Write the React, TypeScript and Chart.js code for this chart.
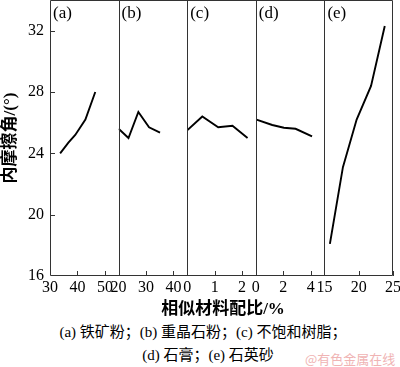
import React, { useEffect, useRef } from "react";
import { Chart, registerables } from "chart.js";

Chart.register(...registerables);

// Panel (a) 铁矿粉
const aX = [33.7, 36.7, 39.2, 42.9, 46.5];
const aY = [24.0, 24.7, 25.2, 26.2, 28.0];
// Panel (b) 重晶石粉
const bX = [20, 23.6, 27.2, 31.1, 35.1];
const bY = [25.6, 25.0, 26.7, 25.7, 25.35];
// Panel (c) 不饱和树脂
const cX = [0, 0.55, 1.13, 1.65, 2.2];
const cY = [25.5, 26.4, 25.7, 25.8, 25.0];
// Panel (d) 石膏
const dX = [0.05, 1.2, 2.05, 2.9, 4.1];
const dY = [26.2, 25.85, 25.67, 25.6, 25.1];
// Panel (e) 石英砂
const eX = [15.8, 17.7, 19.7, 21.8, 23.8];
const eY = [18.1, 23.1, 26.2, 28.4, 32.3];

const panelLabels = ["(a)", "(b)", "(c)", "(d)", "(e)"];
const panelMin = [30, 20, 0, 0, 15];
const panelMax = [55, 45, 2.5, 5, 25];
const panelStep = [10, 10, 1, 2, 5];
const yMin = 16;
const yMax = 34;
const yStep = 4;

const xTitle = "相似材料配比/%";
const yTitle = "内摩擦角/(°)";
const caption1 = "(a) 铁矿粉；(b) 重晶石粉；(c) 不饱和树脂；";
const caption2 = "(d) 石膏；(e) 石英砂";
const watermark = "@有色金属在线";

const seriesX = [aX, bX, cX, dX, eX];
const seriesY = [aY, bY, cY, dY, eY];
const axisIds = ["xa", "xb", "xc", "xd", "xe"];

const SERIF = '"Liberation Serif", "Times New Roman", "Noto Sans CJK SC", serif';
const FRAME = "#333";

const framePlugin = {
  id: "frame",
  afterDraw(chart: any) {
    const { ctx, chartArea } = chart;
    const { left, right, top, bottom } = chartArea;
    ctx.save();
    ctx.strokeStyle = FRAME;
    ctx.lineWidth = 1;
    ctx.beginPath();
    ctx.rect(left + 0.5, top + 0.5, right - left - 1, bottom - top - 1);
    ctx.stroke();
    // dividers and inward x ticks
    axisIds.forEach((id, i) => {
      const sc = chart.scales[id];
      if (i > 0) {
        const x = Math.round(sc.left) + 0.5;
        ctx.beginPath();
        ctx.moveTo(x, top);
        ctx.lineTo(x, bottom);
        ctx.stroke();
      }
      sc.ticks.forEach((t: any) => {
        if (t.value === panelMin[i]) return;
        const x = Math.round(sc.getPixelForValue(t.value)) + 0.5;
        ctx.beginPath();
        ctx.moveTo(x, bottom);
        ctx.lineTo(x, bottom - 5);
        ctx.stroke();
      });
      ctx.fillStyle = "#000";
      ctx.font = "17px " + SERIF;
      ctx.textAlign = "left";
      ctx.textBaseline = "top";
      ctx.fillText(panelLabels[i], sc.left + 3, top + 5);
    });
    // inward y ticks
    const ys = chart.scales.y;
    ys.ticks.forEach((t: any) => {
      if (t.value === yMin) return;
      const y = Math.round(ys.getPixelForValue(t.value)) + 0.5;
      ctx.beginPath();
      ctx.moveTo(left, y);
      ctx.lineTo(left + 5, y);
      ctx.stroke();
    });
    // shared x-axis title, centred under the middle panel
    const xc = chart.scales.xc;
    ctx.fillStyle = "#000";
    ctx.font = "bold 17px " + SERIF;
    ctx.textAlign = "center";
    ctx.textBaseline = "middle";
    ctx.fillText(xTitle, (xc.left + xc.right) / 2 + 1.5, xc.bottom - 12);
    ctx.restore();
  },
};

function App() {
  const ref = useRef<HTMLCanvasElement>(null);

  useEffect(() => {
    if (!ref.current) return;
    const datasets = axisIds.map((id, i) => ({
      data: seriesX[i].map((x, k) => ({ x, y: seriesY[i][k] })),
      xAxisID: id,
      yAxisID: "y",
      borderColor: "#000",
      borderWidth: 1.9,
      pointRadius: 0,
      tension: 0,
      fill: false,
    }));

    const scales: any = {
      y: {
        type: "linear",
        position: "left",
        min: yMin,
        max: yMax,
        grid: { display: false, drawTicks: false },
        border: { display: false },
        ticks: {
          stepSize: yStep,
          includeBounds: false,
          padding: 6,
          color: "#000",
          font: { family: SERIF, size: 16 },
        },
        title: {
          display: true,
          text: yTitle,
          color: "#000",
          font: { family: SERIF, size: 17, weight: "bold" },
          padding: { top: 0, bottom: 0 },
        },
        afterFit(s: any) {
          s.width = 50;
          s.paddingTop = 0;
          s.paddingBottom = 0;
        },
      },
    };

    axisIds.forEach((id, i) => {
      scales[id] = {
        type: "linear",
        position: "bottom",
        stack: "x",
        stackWeight: 1,
        min: panelMin[i],
        max: panelMax[i],
        grid: { display: false, drawTicks: false },
        border: { display: false },
        ticks: {
          stepSize: panelStep[i],
          includeBounds: false,
          autoSkip: false,
          maxRotation: 0,
          minRotation: 0,
          padding: 2,
          color: "#000",
          font: { family: SERIF, size: 16 },
        },
        title: { display: false },
        afterFit(s: any) {
          s.height = 46;
          s.paddingLeft = 0;
          s.paddingRight = 0;
        },
      };
    });

    const chart = new Chart(ref.current, {
      type: "line",
      data: { datasets } as any,
      options: {
        animation: false,
        responsive: false,
        maintainAspectRatio: false,
        layout: { padding: { left: 0, right: 7, top: 0, bottom: 0 } },
        plugins: {
          legend: { display: false },
          tooltip: { enabled: false },
        },
        scales,
      } as any,
      plugins: [framePlugin],
    });
    return () => chart.destroy();
  }, []);

  return (
    <div
      style={{
        position: "absolute",
        left: 0,
        top: 0,
        width: 400,
        height: 367,
        background: "#fff",
        overflow: "hidden",
      }}
    >
      <canvas ref={ref} width={400} height={322} style={{ display: "block" }} />
      <div
        style={{
          position: "absolute",
          left: 0,
          width: 406,
          top: 323,
          textAlign: "center",
          fontFamily: SERIF,
          fontSize: 15,
          lineHeight: "18px",
          color: "#000",
          whiteSpace: "nowrap",
        }}
      >
        {caption1}
      </div>
      <div
        style={{
          position: "absolute",
          left: 0,
          width: 416,
          top: 346,
          textAlign: "center",
          fontFamily: SERIF,
          fontSize: 15,
          lineHeight: "18px",
          color: "#000",
          whiteSpace: "nowrap",
        }}
      >
        {caption2}
      </div>
      <div
        style={{
          position: "absolute",
          left: 305,
          top: 351,
          fontFamily: '"Noto Sans CJK SC", sans-serif',
          fontSize: 13,
          lineHeight: "16px",
          color: "#f0b4b4",
          whiteSpace: "nowrap",
        }}
      >
        {watermark}
      </div>
    </div>
  );
}

export default App;
